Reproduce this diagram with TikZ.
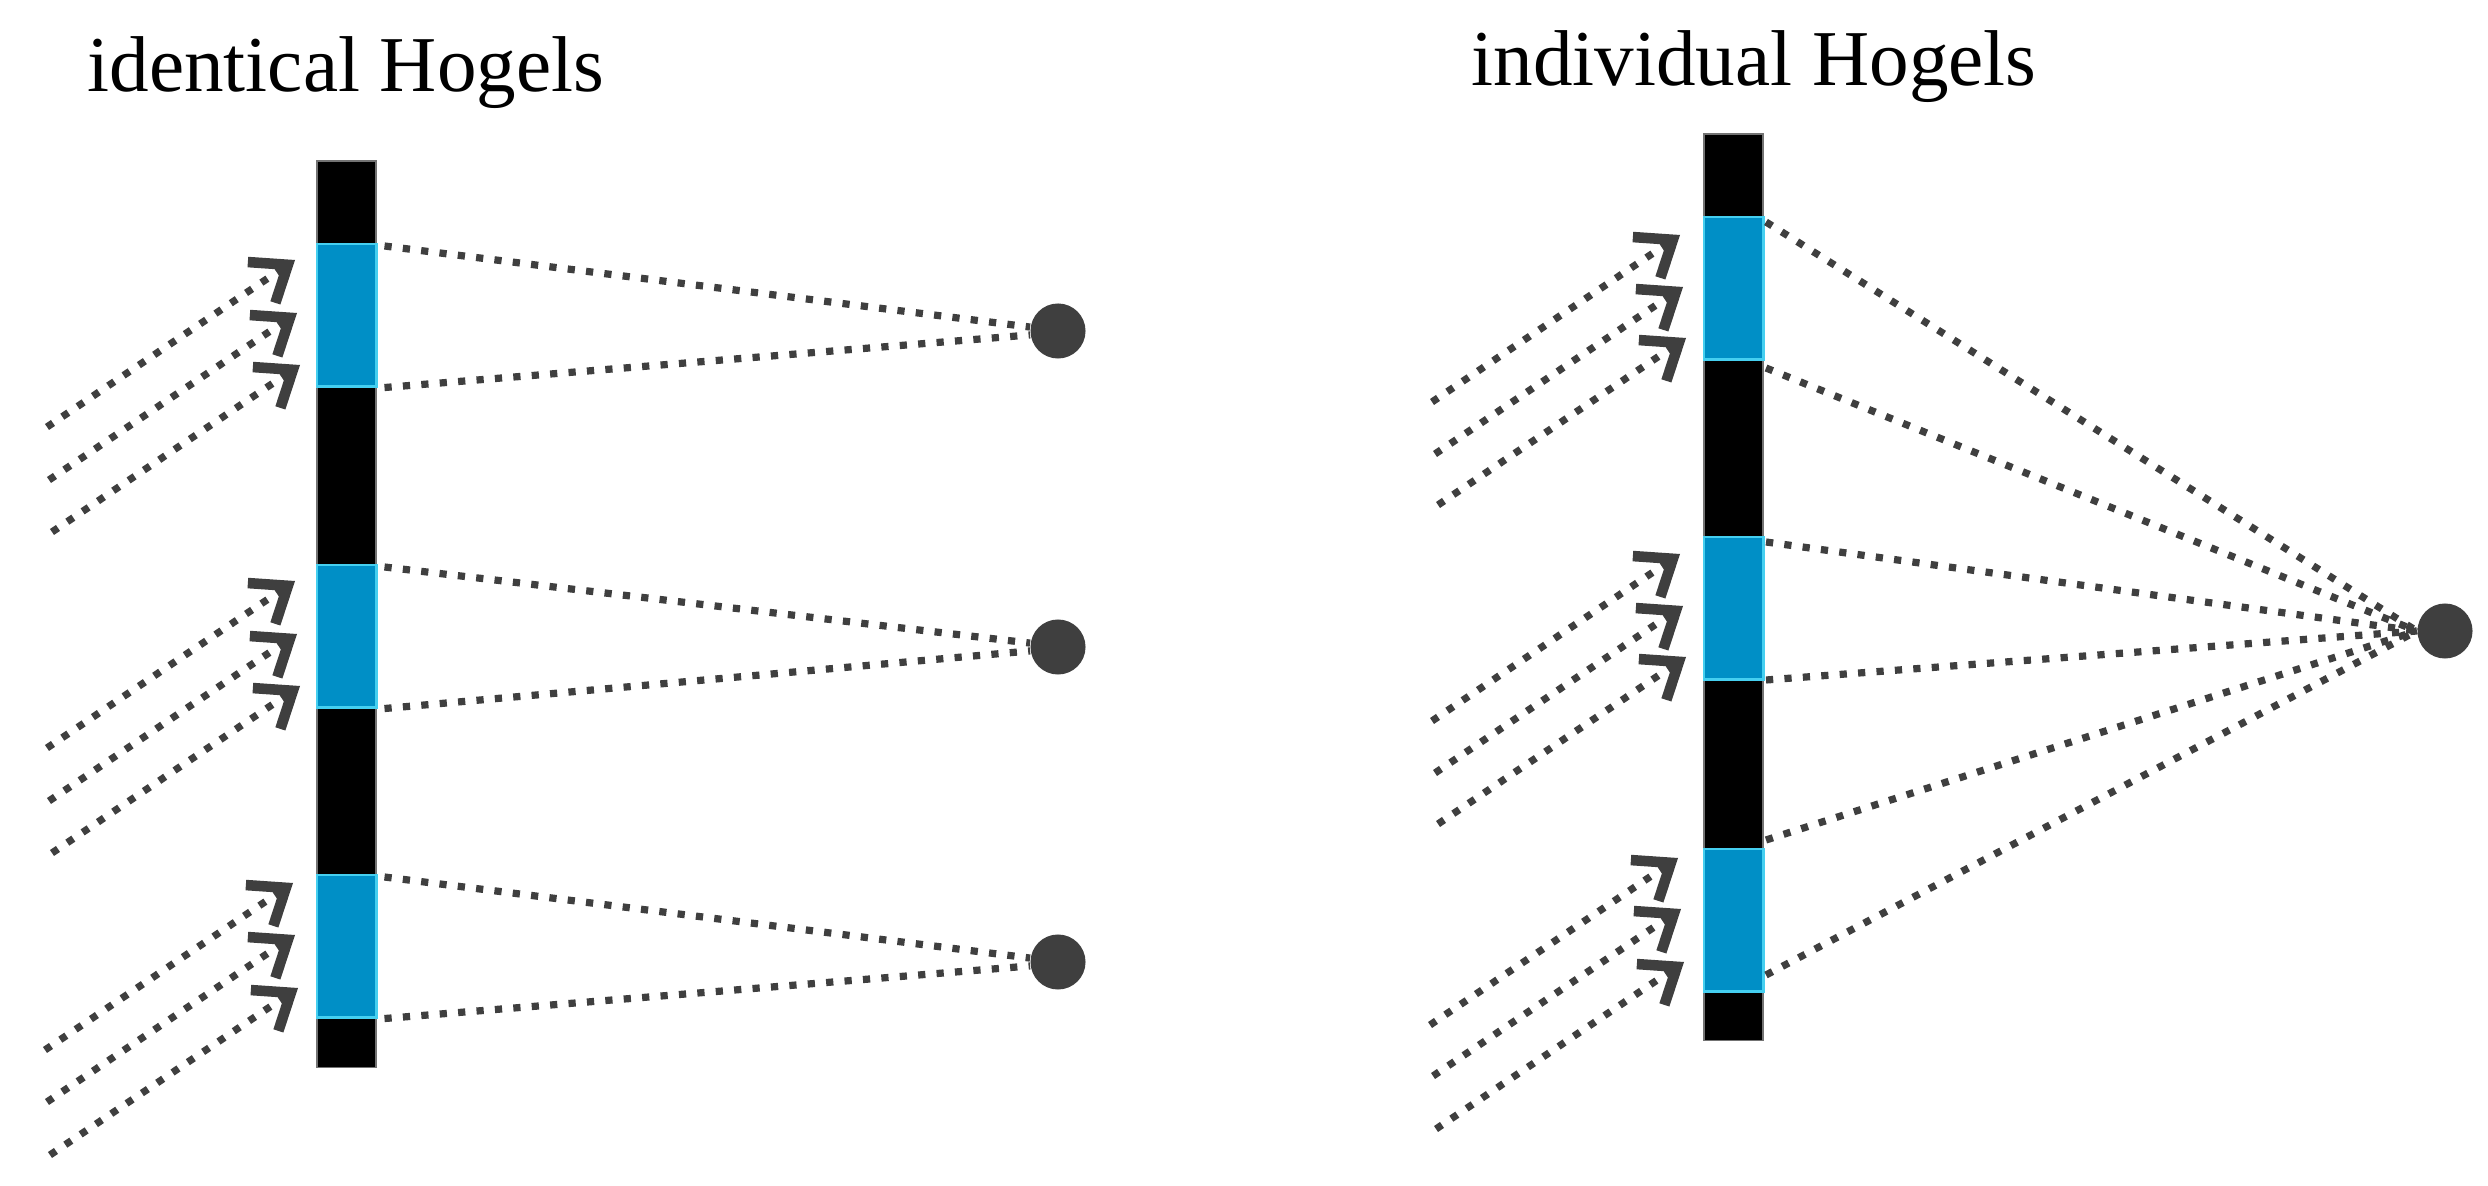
\documentclass[tikz,border=0pt]{standalone}
\usepackage{fontspec}
\setmainfont{Liberation Serif}
\usetikzlibrary{arrows.meta}
\definecolor{raycol}{HTML}{3F3F3F}
\definecolor{hogblue}{HTML}{008FC6}
\definecolor{hogedge}{HTML}{45CFF0}
\begin{document}
\begin{tikzpicture}[x=0.01cm,y=-0.01cm,
  barbox/.style={fill=black,draw=black!55,line width=0.5pt,inner sep=0pt,minimum width=0.59cm,anchor=north west},
  seg/.style={fill=hogblue,draw=hogedge,line width=0.7pt,inner sep=0pt,minimum width=0.59cm,minimum height=1.42cm,anchor=north west},
  spot/.style={circle,fill=raycol,inner sep=0pt,minimum size=0.55cm},
  ray/.style={draw=raycol,line width=2.05pt,dash pattern=on 2.05pt off 3.2pt},
  arr/.style={-{Straight Barb[length=9pt,width=14pt,line width=3pt]}},
  title/.style={anchor=base west,inner sep=0pt,font=\fontsize{22.5}{27}\selectfont}]
\useasboundingbox (0,0) rectangle (2488,1186);

% titles
\node[title] (tL) at (87,92) {identical Hogels};
\node[title] (tR) at (1471,86) {individual Hogels};

% left bar
\node[barbox,minimum height=9.06cm] (barL) at (316,160) {};
\node[seg] (L1) at (316,243) {};
\node[seg] (L2) at (316,564) {};
\node[seg] (L3) at (316,874) {};

% right bar
\node[barbox,minimum height=9.06cm] (barR) at (1703,133) {};
\node[seg] (R1) at (1703,216) {};
\node[seg] (R2) at (1703,536) {};
\node[seg] (R3) at (1703,848) {};

% points
\node[spot] (dL1) at (1058,331) {};
\node[spot] (dL2) at (1058,647) {};
\node[spot] (dL3) at (1058,962) {};
\node[spot] (dR) at (2445,631) {};

% left rays to points
\foreach \k in {1,2,3}{
  \draw[ray] ([xshift=0.07cm,yshift=-0.03cm]L\k.north east) -- (dL\k.172);
  \draw[ray] ([xshift=0.07cm]L\k.south east) -- (dL\k.188);
}

% right rays to the single point
\coordinate (r1) at (1766,222);
\coordinate (r2) at (1766,368);
\coordinate (r3) at (1766,542);
\coordinate (r4) at (1766,680);
\coordinate (r5) at (1766,840);
\coordinate (r6) at (1766,975);
\foreach \k in {1,...,6}{
  \draw[ray] (r\k) -- (dR.west);
}

% incoming light arrows
\foreach \n/\tx/\ty in {
  L11/295/260, L12/297/313, L13/300/365,
  L21/295/581, L22/297/634, L23/300/686,
  L31/293/883, L32/295/935, L33/298/988,
  R11/1680/235, R12/1683/287, R13/1686/338,
  R21/1680/554, R22/1683/606, R23/1686/657,
  R31/1678/858, R32/1681/909, R33/1684/962}{
  \coordinate (t\n) at (\tx,\ty);
  \coordinate (s\n) at (\tx-248,\ty+167);
  \draw[ray,arr] (s\n) -- (t\n);
}
\end{tikzpicture}
\end{document}
